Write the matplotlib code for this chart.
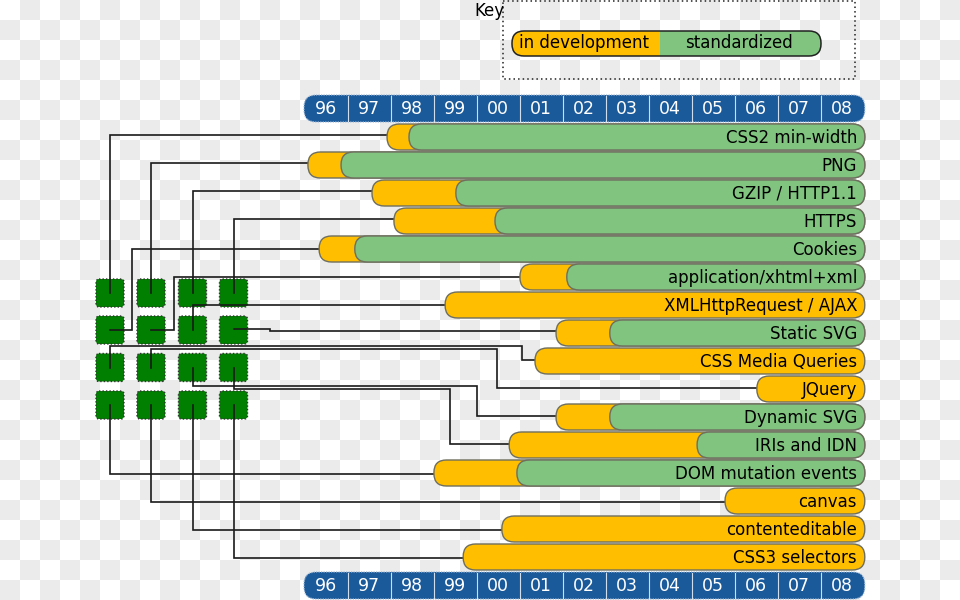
import matplotlib.pyplot as plt
from matplotlib.patches import FancyBboxPatch, Rectangle
import numpy as np

years = ["96", "97", "98", "99", "00", "01", "02", "03", "04", "05", "06", "07", "08"]
features = ["CSS2 min-width", "PNG", "GZIP / HTTP1.1", "HTTPS", "Cookies",
            "application/xhtml+xml", "XMLHttpRequest / AJAX", "Static SVG",
            "CSS Media Queries", "JQuery", "Dynamic SVG", "IRIs and IDN",
            "DOM mutation events", "canvas", "contenteditable", "CSS3 selectors"]
dev_start = [1997.92, 1996.08, 1997.57, 1998.08, 1996.34, 2001.01, 1999.27, 2001.85,
             2001.36, 2006.52, 2001.85, 2000.76, 1999.01, 2005.78, 2000.59, 1999.69]
std_start = [1998.43, 1996.85, 1999.52, 2000.43, 1997.17, 2002.10, None, 2003.10,
             None, None, 2003.10, 2005.13, 2000.94, None, None, None]
bar_end = 2009.03

YELLOW = "#ffbf00"
GREEN = "#80c480"
EDGE = "#6e6e5e"
BLUE = "#1b5a9a"
SQ_GREEN = "#007f00"

# pixel layout of the figure (960x600), years/rows are the data units
X0, X0_PX, YEAR_PX = 1996, 304.5, 43.0
ROW0_PX, ROW_PX = 137.0, 28.0


def px(x):
    return X0 + (x - X0_PX) / YEAR_PX


def py(y):
    return (y - ROW0_PX) / ROW_PX


ASPECT = YEAR_PX / ROW_PX

fig = plt.figure(figsize=(9.6, 6), dpi=100)
ax = fig.add_axes([0, 0, 1, 1])
ax.set_xlim(px(0), px(960))
ax.set_ylim(py(600), py(0))
ax.axis("off")

# transparency checkerboard background
ii, jj = np.meshgrid(np.arange(48), np.arange(30))
board = np.where((ii + jj) % 2 == 1, 0.925, 1.0)
ax.imshow(np.dstack([board] * 3), extent=(px(0), px(960), py(600), py(0)),
          aspect="auto", interpolation="nearest", zorder=0)


def pill(x0, x1, yc, h, r, **kw):
    p = FancyBboxPatch((x0, yc - h / 2), x1 - x0, h,
                       boxstyle=f"round,pad=0,rounding_size={r}",
                       mutation_aspect=ASPECT, **kw)
    ax.add_patch(p)
    return p


bar_h = 26 / ROW_PX
rad = 12.5 / YEAR_PX
for i, name in enumerate(features):
    pill(dev_start[i], bar_end, i, bar_h, rad, facecolor=YELLOW, edgecolor=EDGE,
         linewidth=1.0, zorder=4)
    if std_start[i] is not None:
        pill(std_start[i], bar_end, i, bar_h, rad, facecolor=GREEN, edgecolor=EDGE,
             linewidth=1.0, zorder=5)
    ax.text(px(857), i + 0.03, name, ha="right", va="center", fontsize=12,
            color="black", zorder=6)

# year scales, top and bottom
for yc in [py(108.5), py(585.5)]:
    pill(px(304), bar_end, yc, 27 / ROW_PX, 12 / YEAR_PX, facecolor=BLUE,
         edgecolor="#9db8d6", linewidth=0.9, linestyle=(0, (1, 1)), zorder=4)
    for k, lab in enumerate(years):
        if k > 0:
            ax.plot([X0 + k, X0 + k], [yc - 12.5 / ROW_PX, yc + 12.5 / ROW_PX],
                    color="white", linewidth=0.8, alpha=0.8, zorder=5)
        ax.text(X0 + k + 0.5, yc + 0.03, lab, ha="center", va="center",
                fontsize=12.5, color="white", zorder=6)

# grid of green squares, one per feature
sq_x = [110, 151, 192.5, 233.5]
sq_y = [293, 330, 367.5, 405]
for r in range(4):
    for c in range(4):
        pill(px(sq_x[c] - 14), px(sq_x[c] + 14), py(sq_y[r]), 28 / ROW_PX, 3 / YEAR_PX,
             facecolor=SQ_GREEN, edgecolor="#333333", linewidth=1.0,
             linestyle=(0, (1, 1.5)), zorder=2)

# connector routing (pixel elbows)
elbow_r1 = [132, 174, None, 270]
bus_r2 = [346, 349, 386, 389]
elbow_r2 = [522, 497, 477, 450]
lkw = dict(color="#1a1a1a", linewidth=1.2, zorder=3, solid_joinstyle="miter")
for i in range(len(features)):
    c, r = i % 4, i // 4
    bx, by = dev_start[i], float(i)
    sx, sy = px(sq_x[c]), py(sq_y[r])
    if r == 0:
        xs, ys = [bx, sx, sx], [by - 0.07, by - 0.07, sy]
    elif r == 1:
        e = elbow_r1[c]
        if e is None:
            xs, ys = [bx, sx, sx], [by, by, sy]
        else:
            yb = sy if c < 3 else py(329)
            by2 = by if c < 3 else py(331)
            xs = [bx, px(e), px(e), sx]
            ys = [by2, by2, yb, yb]
    elif r == 2:
        e, b = px(elbow_r2[c]), py(bus_r2[c])
        xs, ys = [bx, e, e, sx, sx], [by - 0.05, by - 0.05, b, b, sy]
    else:
        xs, ys = [bx, sx, sx], [by + 0.05, by + 0.05, sy]
    ax.plot(xs, ys, **lkw)

# key
ax.add_patch(Rectangle((px(503), py(1)), px(855) - px(503), py(79) - py(1),
                       fill=False, edgecolor="#222222", linewidth=1.1,
                       linestyle=(0, (1, 2)), zorder=3))
ax.text(px(474), py(11), "Key", ha="left", va="center", fontsize=12, zorder=6)
key_pill = pill(px(512), px(821), py(43.5), 25 / ROW_PX, 12 / YEAR_PX,
                facecolor=GREEN, edgecolor="none", zorder=4)
dev_part = Rectangle((px(500), py(30)), px(660) - px(500), py(57) - py(30),
                     facecolor=YELLOW, edgecolor="none", zorder=5)
ax.add_patch(dev_part)
dev_part.set_clip_path(key_pill)
pill(px(512), px(821), py(43.5), 25 / ROW_PX, 12 / YEAR_PX,
     facecolor="none", edgecolor="#222222", linewidth=1.1, zorder=6)
ax.text(px(519), py(42.5), "in development", ha="left", va="center", fontsize=12, zorder=7)
ax.text(px(739), py(43.5), "standardized", ha="center", va="center", fontsize=12, zorder=7)

plt.savefig("out.png", dpi=100)
